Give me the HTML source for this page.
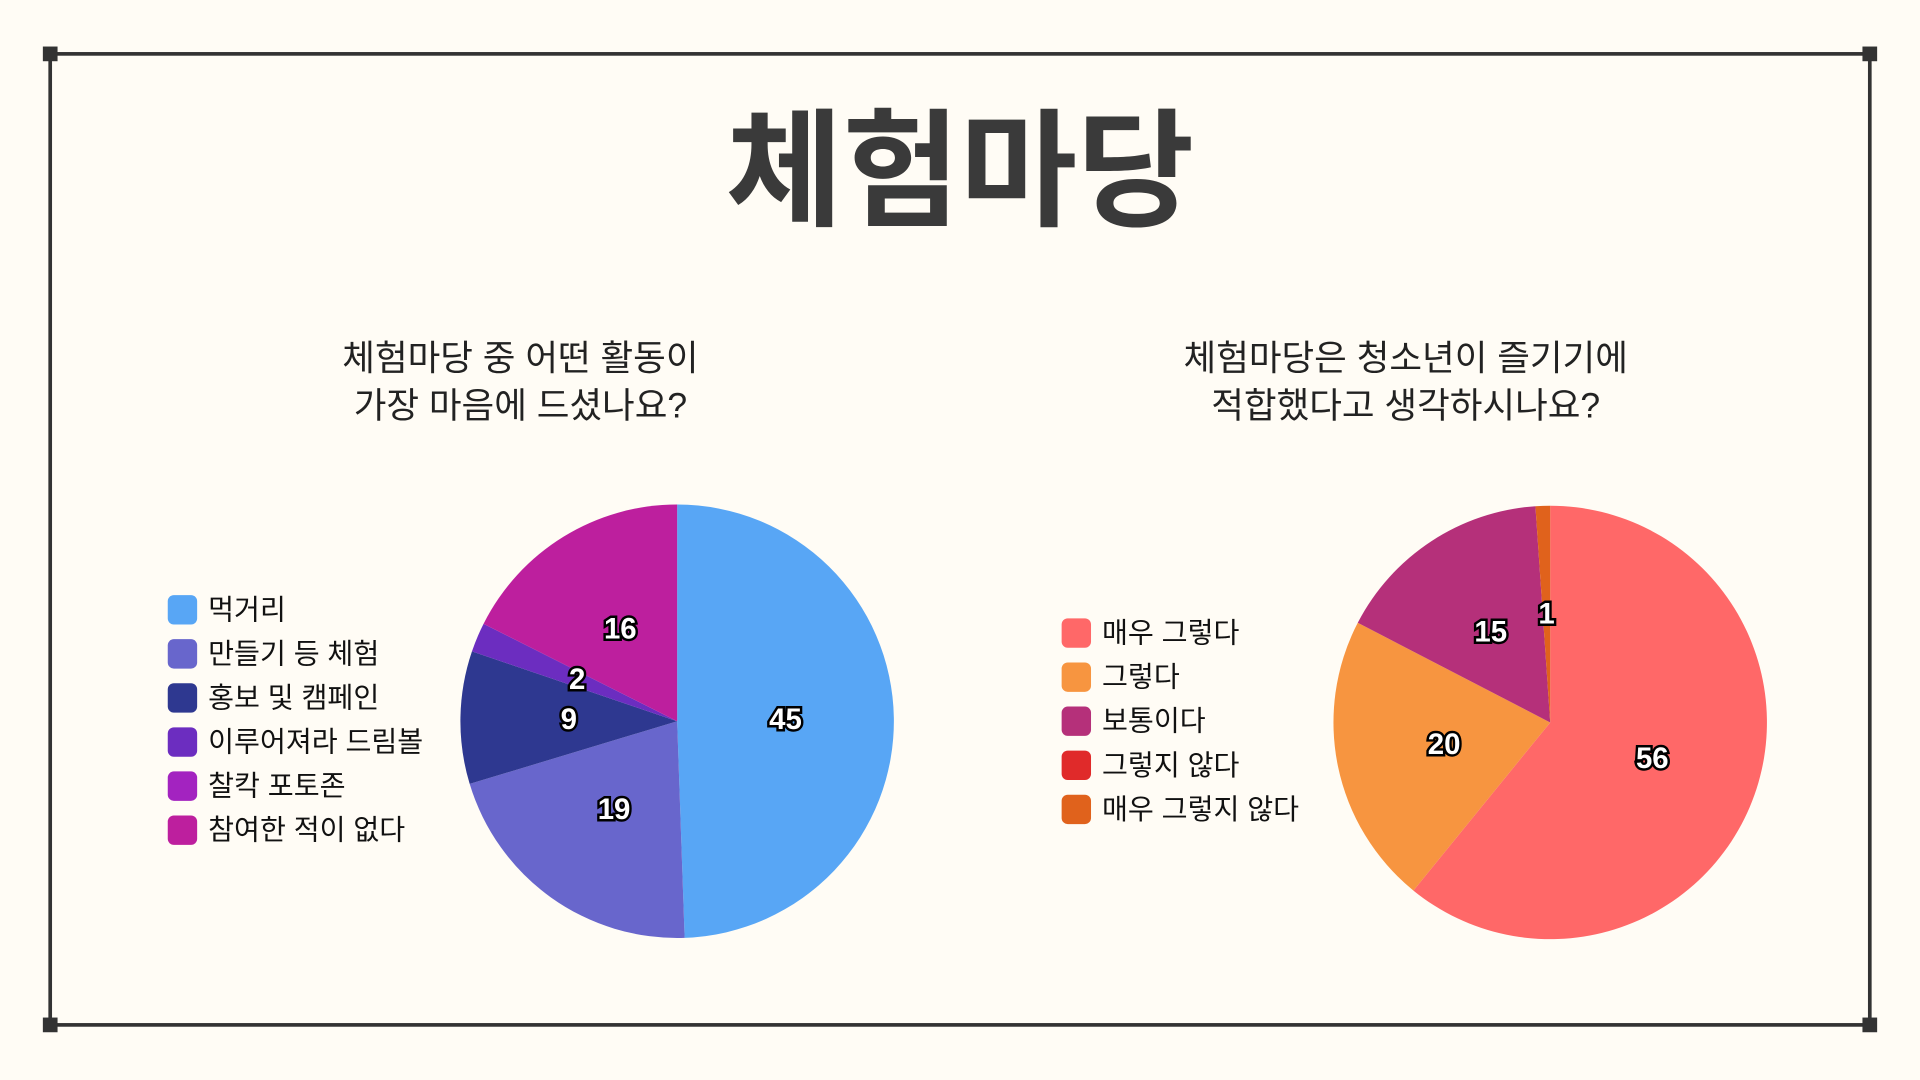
<!DOCTYPE html>
<html><head><meta charset="utf-8"><style>
html,body{margin:0;padding:0;background:#fffcf5;}
svg{display:block;font-family:"Liberation Sans","Noto Sans CJK KR",sans-serif;}
.lbl{font-size:24px;font-weight:bold;fill:#fff;stroke:#000;stroke-width:4px;paint-order:stroke;text-anchor:middle;dominant-baseline:central;}
.leg{font-size:23px;fill:#111;dominant-baseline:central;}
.sub{font-size:29px;fill:#222;text-anchor:middle;}
</style></head><body>
<svg id="svg" width="1920" height="1080" viewBox="0 0 1568 882">
<rect x="0" y="0" width="1568" height="882" fill="#fffcf5"/>
<rect x="41" y="44" width="1486" height="793" fill="none" stroke="#333" stroke-width="3"/>
<rect x="35" y="38" width="12" height="12" fill="#333"/>
<rect x="1521" y="38" width="12" height="12" fill="#333"/>
<rect x="35" y="831" width="12" height="12" fill="#333"/>
<rect x="1521" y="831" width="12" height="12" fill="#333"/>
<text x="784" y="176" text-anchor="middle" font-size="104" font-weight="bold" fill="#3a3a3a">체험마당</text>
<text class="sub" x="425" y="302">체험마당 중 어떤 활동이</text>
<text class="sub" x="425" y="341">가장 마음에 드셨나요?</text>
<text class="sub" x="1148" y="302">체험마당은 청소년이 즐기기에</text>
<text class="sub" x="1148" y="341">적합했다고 생각하시나요?</text>
<g id="left"></g><g id="right"></g>
</svg>
<script>
const leftCategories=["먹거리","만들기 등 체험","홍보 및 캠페인","이루어져라 드림볼","찰칵 포토존","참여한 적이 없다"];
const leftValues=[45,19,9,2,0,16];
const leftColors=["#58a6f5","#6866cc","#2e3890","#6c2dc0","#a323c0","#bd1f9e"];
const rightCategories=["매우 그렇다","그렇다","보통이다","그렇지 않다","매우 그렇지 않다"];
const rightValues=[56,20,15,0,1];
const rightColors=["#ff6868","#f79540","#b5307a","#e02a2a","#e0621c"];
const NS="http://www.w3.org/2000/svg";
function pie(g,cx,cy,r,cats,vals,cols,lx,ly){
  const total=vals.reduce((a,b)=>a+b,0);
  let a0=0;
  vals.forEach((v,i)=>{
    const a1=a0+v/total*Math.PI*2;
    if(v>0){
      const p=document.createElementNS(NS,"path");
      const x0=cx+r*Math.sin(a0),y0=cy-r*Math.cos(a0),x1=cx+r*Math.sin(a1),y1=cy-r*Math.cos(a1);
      p.setAttribute("d",`M${cx},${cy}L${x0},${y0}A${r},${r} 0 ${a1-a0>Math.PI?1:0} 1 ${x1},${y1}Z`);
      p.setAttribute("fill",cols[i]);
      
      
      g.appendChild(p);
    }
    a0=a1;
  });
  a0=0;
  vals.forEach((v,i)=>{
    const a1=a0+v/total*Math.PI*2;
    if(v>0){
      const m=(a0+a1)/2,d=r*0.5;
      const t=document.createElementNS(NS,"text");
      t.setAttribute("x",cx+d*Math.sin(m));t.setAttribute("y",cy-d*Math.cos(m));
      t.setAttribute("class","lbl");t.textContent=v;
      
      
      g.appendChild(t);
    }
    a0=a1;
  });
  cats.forEach((c,i)=>{
    const y=ly+i*36;
    const s=document.createElementNS(NS,"rect");
    s.setAttribute("x",lx);s.setAttribute("y",y-12);s.setAttribute("width",24);s.setAttribute("height",24);s.setAttribute("rx",5);s.setAttribute("fill",cols[i]);
    
    
    g.appendChild(s);
    const t=document.createElementNS(NS,"text");
    t.setAttribute("x",lx+33);t.setAttribute("y",y);t.setAttribute("class","leg");t.textContent=c;
    
    
    g.appendChild(t);
  });
}
pie(document.getElementById("left"),553,589,177,leftCategories,leftValues,leftColors,137,498);
pie(document.getElementById("right"),1266,590,177,rightCategories,rightValues,rightColors,867,517);
</script>
</body></html>
